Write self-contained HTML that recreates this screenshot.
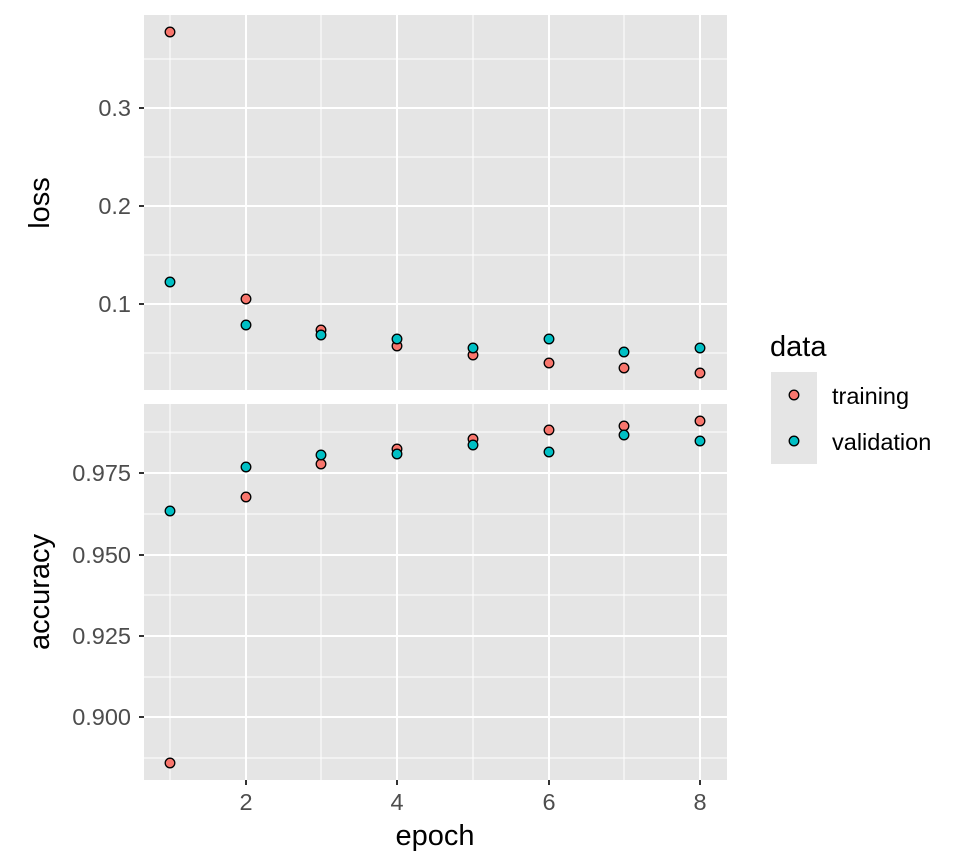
<!DOCTYPE html><html><head><style>body{margin:0;background:#fff}svg{display:block}text{font-family:"Liberation Sans",sans-serif}</style></head><body>
<svg width="960" height="864" viewBox="0 0 960 864">
<g stroke="#fff" fill="none">
<rect x="144" y="15" width="583" height="375" fill="#e5e5e5" stroke="none"/>
<rect x="144" y="404" width="583" height="376" fill="#e5e5e5" stroke="none"/>
<g stroke-width="1"><line x1="144" x2="727" y1="59" y2="59"/><line x1="144" x2="727" y1="157" y2="157"/><line x1="144" x2="727" y1="255" y2="255"/><line x1="144" x2="727" y1="353" y2="353"/>
<line x1="144" x2="727" y1="432" y2="432"/><line x1="144" x2="727" y1="514" y2="514"/><line x1="144" x2="727" y1="595" y2="595"/><line x1="144" x2="727" y1="677" y2="677"/><line x1="144" x2="727" y1="758" y2="758"/>
<line x1="170" x2="170" y1="15" y2="390"/><line x1="321" x2="321" y1="15" y2="390"/><line x1="473" x2="473" y1="15" y2="390"/><line x1="624" x2="624" y1="15" y2="390"/>
<line x1="170" x2="170" y1="404" y2="780"/><line x1="321" x2="321" y1="404" y2="780"/><line x1="473" x2="473" y1="404" y2="780"/><line x1="624" x2="624" y1="404" y2="780"/></g>
<g stroke-width="2"><line x1="144" x2="727" y1="108" y2="108"/><line x1="144" x2="727" y1="206" y2="206"/><line x1="144" x2="727" y1="304" y2="304"/>
<line x1="144" x2="727" y1="473" y2="473"/><line x1="144" x2="727" y1="555" y2="555"/><line x1="144" x2="727" y1="636" y2="636"/><line x1="144" x2="727" y1="717" y2="717"/>
<line x1="246" x2="246" y1="15" y2="390"/><line x1="397" x2="397" y1="15" y2="390"/><line x1="549" x2="549" y1="15" y2="390"/><line x1="700" x2="700" y1="15" y2="390"/>
<line x1="246" x2="246" y1="404" y2="780"/><line x1="397" x2="397" y1="404" y2="780"/><line x1="549" x2="549" y1="404" y2="780"/><line x1="700" x2="700" y1="404" y2="780"/></g>
</g>
<g stroke="#333" stroke-width="2">
<line x1="139" x2="144" y1="108" y2="108"/><line x1="139" x2="144" y1="206" y2="206"/><line x1="139" x2="144" y1="304" y2="304"/>
<line x1="139" x2="144" y1="473" y2="473"/><line x1="139" x2="144" y1="555" y2="555"/><line x1="139" x2="144" y1="636" y2="636"/><line x1="139" x2="144" y1="717" y2="717"/>
<line x1="246" x2="246" y1="780" y2="785"/><line x1="397" x2="397" y1="780" y2="785"/><line x1="549" x2="549" y1="780" y2="785"/><line x1="700" x2="700" y1="780" y2="785"/>
</g>
<g font-size="23.5" fill="#4d4d4d" text-anchor="end">
<text x="131" y="116">0.3</text><text x="131" y="214">0.2</text><text x="131" y="312">0.1</text>
<text x="131" y="481">0.975</text><text x="131" y="563">0.950</text><text x="131" y="644">0.925</text><text x="131" y="725">0.900</text>
</g>
<g font-size="23.5" fill="#4d4d4d" text-anchor="middle">
<text x="246" y="810">2</text><text x="397" y="810">4</text><text x="549" y="810">6</text><text x="700" y="810">8</text>
</g>
<text x="435" y="845" font-size="29" text-anchor="middle">epoch</text>
<text transform="translate(49,203) rotate(-90)" font-size="29" text-anchor="middle">loss</text>
<text transform="translate(49,592) rotate(-90)" font-size="29" text-anchor="middle">accuracy</text>
<g stroke="#000" stroke-width="1.3">
<g fill="#F8766D">
<circle cx="170" cy="32" r="4.8"/><circle cx="246" cy="299" r="4.8"/><circle cx="321" cy="330" r="4.8"/><circle cx="397" cy="346" r="4.8"/><circle cx="473" cy="355" r="4.8"/><circle cx="549" cy="363" r="4.8"/><circle cx="624" cy="368" r="4.8"/><circle cx="700" cy="373" r="4.8"/>
<circle cx="170" cy="763" r="4.8"/><circle cx="246" cy="497" r="4.8"/><circle cx="321" cy="464" r="4.8"/><circle cx="397" cy="449" r="4.8"/><circle cx="473" cy="439" r="4.8"/><circle cx="549" cy="430" r="4.8"/><circle cx="624" cy="426" r="4.8"/><circle cx="700" cy="421" r="4.8"/>
</g>
<g fill="#00BFC4">
<circle cx="170" cy="282" r="4.8"/><circle cx="246" cy="325" r="4.8"/><circle cx="321" cy="335" r="4.8"/><circle cx="397" cy="339" r="4.8"/><circle cx="473" cy="348" r="4.8"/><circle cx="549" cy="339" r="4.8"/><circle cx="624" cy="352" r="4.8"/><circle cx="700" cy="348" r="4.8"/>
<circle cx="170" cy="511" r="4.8"/><circle cx="246" cy="467" r="4.8"/><circle cx="321" cy="455" r="4.8"/><circle cx="397" cy="454" r="4.8"/><circle cx="473" cy="445" r="4.8"/><circle cx="549" cy="452" r="4.8"/><circle cx="624" cy="435" r="4.8"/><circle cx="700" cy="441" r="4.8"/>
</g>
</g>
<rect x="771" y="372" width="46" height="92" fill="#e5e5e5"/>
<g stroke="#000" stroke-width="1.3"><circle cx="794" cy="395" r="4.8" fill="#F8766D"/><circle cx="794" cy="441" r="4.8" fill="#00BFC4"/></g>
<text x="770" y="356" font-size="29">data</text>
<text x="832" y="404" font-size="23.5">training</text>
<text x="832" y="450" font-size="23.5">validation</text>
</svg>
</body></html>
